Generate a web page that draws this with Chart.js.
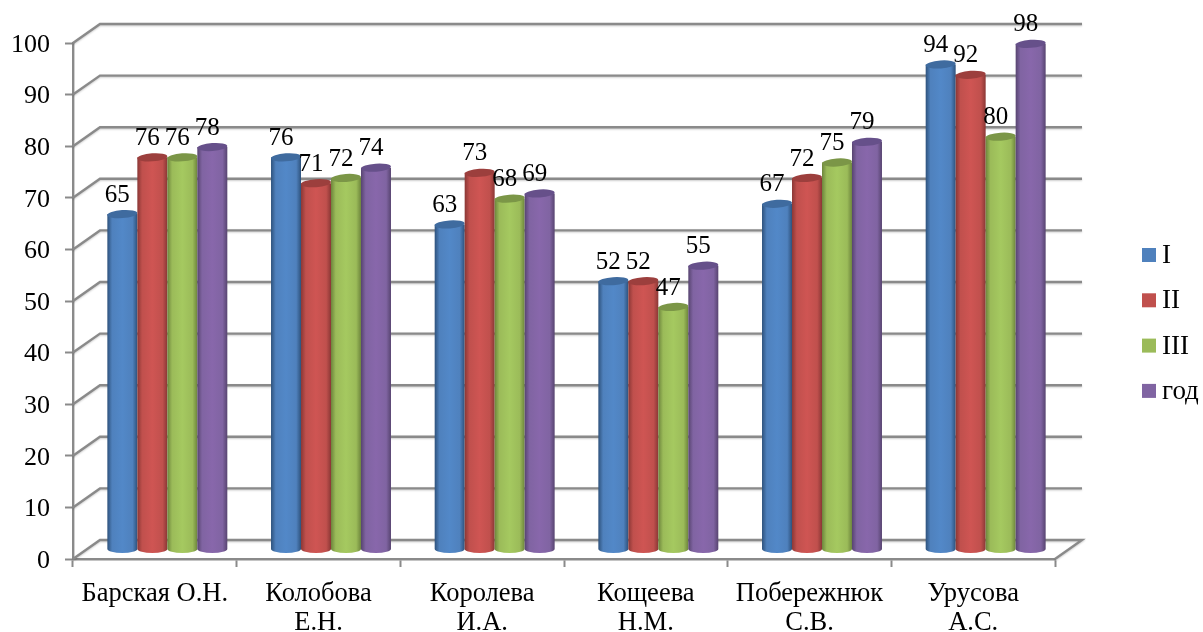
<!DOCTYPE html>
<html>
<head>
<meta charset="utf-8">
<style>
  html, body { margin: 0; padding: 0; background: #fff; }
  canvas { display: block; }
</style>
<script src="https://cdn.jsdelivr.net/npm/chart.js@4"></script>
</head>
<body>
<canvas id="chart" width="1203" height="632"></canvas>
<script>
const categories = ['Барская О.Н.', ['Колобова', 'Е.Н.'], ['Королева', 'И.А.'], ['Кощеева', 'Н.М.'], ['Побережнюк', 'С.В.'], ['Урусова', 'А.С.']];
const seriesI = [65, 76, 63, 52, 67, 94];
const seriesII = [76, 71, 73, 52, 72, 92];
const seriesIII = [76, 72, 68, 47, 75, 80];
const seriesYear = [78, 74, 69, 55, 79, 98];
const seriesNames = ['I', 'II', 'III', 'год'];
const yTicks = [0, 10, 20, 30, 40, 50, 60, 70, 80, 90, 100];

const fill = ['#4f81bd', '#c0504d', '#9bbb59', '#8064a2'];
const light = ['#5288c8', '#cf5553', '#a5c960', '#8867ab'];
const edge = ['#2e527c', '#8a3735', '#6d853c', '#574470'];
const cap = ['#3f6b9f', '#9c3f3d', '#7b9647', '#66508a'];

const gridColor = '#8a8a8a';
const fontFamily = '"Liberation Serif", "Times New Roman", serif';
const depthX = 27, depthY = 19;
const barShift = 12.5;

function cylinder(ctx, x, top, bottom, w, i) {
  const rx = w / 2, ry = 4;
  const g = ctx.createLinearGradient(x - rx, 0, x + rx, 0);
  g.addColorStop(0, edge[i]);
  g.addColorStop(0.16, fill[i]);
  g.addColorStop(0.5, light[i]);
  g.addColorStop(0.84, fill[i]);
  g.addColorStop(1, edge[i]);
  ctx.fillStyle = g;
  ctx.beginPath();
  ctx.moveTo(x - rx, top);
  ctx.lineTo(x + rx, top);
  ctx.lineTo(x + rx, bottom);
  ctx.ellipse(x, bottom, rx, ry, 0, 0, Math.PI);
  ctx.closePath();
  ctx.fill();
  // top cap, tilted a little like the original
  ctx.fillStyle = cap[i];
  ctx.beginPath();
  ctx.ellipse(x, top, rx, ry, -0.07, 0, Math.PI * 2);
  ctx.fill();
}

const cylinders = {
  id: 'cylinders',
  beforeDatasetsDraw(chart) {
    const { ctx, scales: { y }, chartArea: a } = chart;
    ctx.save();

    // back wall lines and the side lines that join them to the value axis
    ctx.lineWidth = 2.4;
    ctx.strokeStyle = gridColor;
    ctx.shadowColor = 'rgba(0,0,0,0.2)';
    ctx.shadowBlur = 2;
    ctx.shadowOffsetY = 1;
    yTicks.forEach(v => {
      const py = y.getPixelForValue(v);
      ctx.beginPath();
      ctx.moveTo(a.left, py);
      ctx.lineTo(a.left + depthX, py - depthY);
      ctx.lineTo(a.right + depthX, py - depthY);
      if (v === 0) ctx.lineTo(a.right, py);
      ctx.stroke();
    });
    ctx.shadowColor = 'transparent';

    // bars
    categories.forEach((c, idx) => {
      chart.data.datasets.forEach((ds, i) => {
        const bar = chart.getDatasetMeta(i).data[idx];
        cylinder(ctx, bar.x + barShift, bar.y - depthY / 2, bar.base - depthY / 2, bar.width, i);
      });
    });

    // value labels
    ctx.fillStyle = '#000';
    ctx.font = '25px ' + fontFamily;
    ctx.textAlign = 'center';
    ctx.textBaseline = 'middle';
    categories.forEach((c, idx) => {
      chart.data.datasets.forEach((ds, i) => {
        const bar = chart.getDatasetMeta(i).data[idx];
        ctx.fillText(ds.data[idx], bar.x + barShift - 5, bar.y - depthY / 2 - 19);
      });
    });

    // legend
    ctx.font = '27px ' + fontFamily;
    ctx.textAlign = 'left';
    seriesNames.forEach((name, i) => {
      const cy = 255 + i * 45.3;
      ctx.fillStyle = fill[i];
      ctx.fillRect(1142, cy - 7, 14, 14);
      ctx.fillStyle = '#000';
      ctx.fillText(name, 1162, cy + 1);
    });

    ctx.restore();
    return false;
  }
};

new Chart(document.getElementById('chart'), {
  type: 'bar',
  data: {
    labels: categories,
    datasets: [
      { label: seriesNames[0], data: seriesI, backgroundColor: fill[0] },
      { label: seriesNames[1], data: seriesII, backgroundColor: fill[1] },
      { label: seriesNames[2], data: seriesIII, backgroundColor: fill[2] },
      { label: seriesNames[3], data: seriesYear, backgroundColor: fill[3] }
    ]
  },
  options: {
    responsive: false,
    animation: false,
    layout: { padding: { top: 43, right: 148, left: 0, bottom: 0 } },
    datasets: { bar: { categoryPercentage: 0.733, barPercentage: 1 } },
    plugins: { legend: { display: false }, tooltip: { enabled: false } },
    scales: {
      x: {
        afterFit(s) { s.height = 73; },
        border: { color: gridColor, width: 2.4 },
        grid: { drawOnChartArea: false, tickLength: 8, tickColor: gridColor, tickWidth: 2 },
        ticks: { color: '#000', autoSkip: false, maxRotation: 0, padding: 12, font: { family: fontFamily, size: 26.5, lineHeight: 1.1 } }
      },
      y: {
        min: 0,
        max: 100,
        afterFit(s) { s.width = 73; },
        border: { color: gridColor, width: 2.4 },
        grid: { drawOnChartArea: false, tickLength: 8, tickColor: gridColor, tickWidth: 2 },
        ticks: { stepSize: 10, color: '#000', padding: 15, labelOffset: 2, font: { family: fontFamily, size: 26 } }
      }
    }
  },
  plugins: [cylinders]
});
</script>
</body>
</html>
